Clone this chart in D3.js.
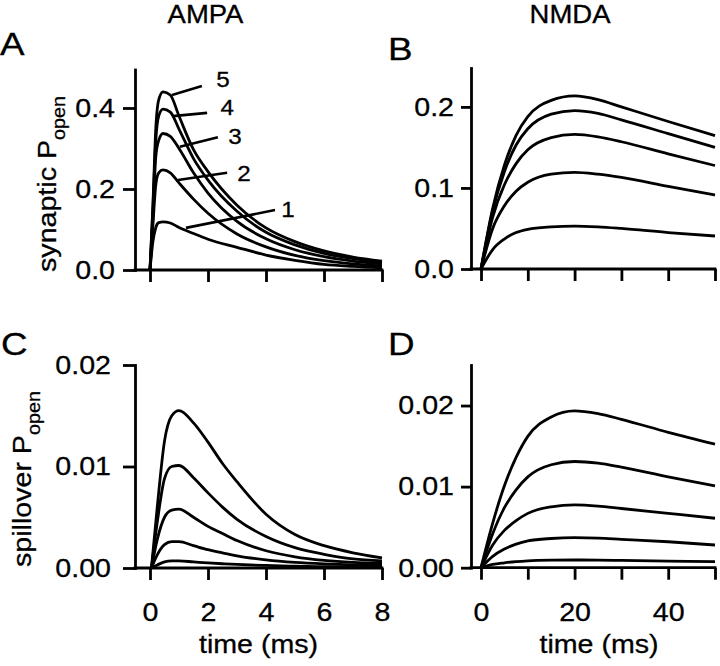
<!DOCTYPE html>
<html>
<head>
<meta charset="utf-8">
<script src="https://cdn.jsdelivr.net/npm/d3@7"></script>
<style>
  html, body { margin: 0; padding: 0; background: #fff; }
  svg { display: block; }
</style>
</head>
<body>
<svg id="chart" width="720" height="666"></svg>
<script>
// ---------------- DATA ----------------
const panelTitles = ["AMPA", "NMDA"];
const panelLetters = ["A", "B", "C", "D"];
const curveLabels = ["1", "2", "3", "4", "5"];

// Panel A: synaptic AMPA P_open (time in ms)
const ampaSynTime = [0, 0.1, 0.2, 0.3, 0.45, 0.7, 1, 1.5, 2, 3, 4, 5, 6, 7, 8];
const ampaSynValues = [
  [0, 0.07, 0.105, 0.117, 0.119, 0.116, 0.105, 0.090, 0.076, 0.056, 0.037, 0.024, 0.014, 0.009, 0.0055],
  [0, 0.11, 0.21, 0.24, 0.247, 0.240, 0.215, 0.175, 0.140, 0.089, 0.057, 0.036, 0.023, 0.015, 0.010],
  [0, 0.13, 0.28, 0.32, 0.337, 0.330, 0.300, 0.240, 0.190, 0.120, 0.077, 0.050, 0.033, 0.022, 0.015],
  [0, 0.15, 0.32, 0.38, 0.397, 0.390, 0.348, 0.275, 0.222, 0.145, 0.093, 0.062, 0.041, 0.028, 0.019],
  [0, 0.16, 0.35, 0.42, 0.440, 0.432, 0.380, 0.297, 0.243, 0.160, 0.104, 0.070, 0.047, 0.032, 0.022]
];
// Panel B: synaptic NMDA P_open
const nmdaSynTime = [0, 2.5, 5, 7.5, 10, 15, 20, 25, 30, 40, 50];
const nmdaSynValues = [
  [0, 0.024, 0.037, 0.045, 0.049, 0.052, 0.053, 0.052, 0.050, 0.045, 0.0407],
  [0, 0.050, 0.078, 0.096, 0.107, 0.117, 0.1193, 0.117, 0.113, 0.102, 0.0913],
  [0, 0.064, 0.104, 0.130, 0.147, 0.162, 0.166, 0.163, 0.157, 0.142, 0.1276],
  [0, 0.072, 0.120, 0.153, 0.173, 0.191, 0.1955, 0.192, 0.184, 0.167, 0.150],
  [0, 0.075, 0.128, 0.165, 0.188, 0.208, 0.2135, 0.209, 0.200, 0.182, 0.1646]
];
// Panel C: spillover AMPA P_open
const ampaSpillTime = [0.05, 0.25, 0.5, 0.75, 1.0, 1.5, 2, 2.5, 3, 4, 5, 6, 7, 8];
const ampaSpillValues = [
  [0, 0.0003, 0.0006, 0.0007, 0.0007, 0.0006, 0.0005, 0.00042, 0.00035, 0.00025, 0.00018, 0.00013, 0.0001, 0.0001],
  [0, 0.0013, 0.0023, 0.0026, 0.0026, 0.0022, 0.0018, 0.0015, 0.0012, 0.0008, 0.00055, 0.0004, 0.0003, 0.00025],
  [0, 0.0028, 0.0050, 0.0057, 0.0058, 0.0050, 0.0041, 0.0034, 0.0027, 0.0017, 0.0011, 0.00075, 0.00055, 0.00045],
  [0, 0.0045, 0.0088, 0.0100, 0.0101, 0.0089, 0.0074, 0.0060, 0.0048, 0.0031, 0.0020, 0.00135, 0.0009, 0.0007],
  [0, 0.0060, 0.0125, 0.0150, 0.0155, 0.0143, 0.0124, 0.0103, 0.0085, 0.0053, 0.0033, 0.0022, 0.0015, 0.0010]
];
// Panel D: spillover NMDA P_open
const nmdaSpillTime = [0, 2.5, 5, 7.5, 10, 15, 20, 25, 30, 40, 50];
const nmdaSpillValues = [
  [0, 0.0004, 0.0006, 0.00075, 0.00085, 0.00093, 0.00095, 0.00094, 0.0009, 0.00082, 0.00074],
  [0, 0.0014, 0.0023, 0.0029, 0.0033, 0.0036, 0.0037, 0.00365, 0.0035, 0.0032, 0.0028],
  [0, 0.0028, 0.0046, 0.0058, 0.0067, 0.0075, 0.00774, 0.0076, 0.0073, 0.0067, 0.0061],
  [0, 0.0042, 0.0074, 0.0096, 0.0112, 0.0127, 0.0131, 0.0129, 0.0124, 0.0112, 0.0101],
  [0, 0.0055, 0.0101, 0.0136, 0.0162, 0.0186, 0.01935, 0.0190, 0.0183, 0.0167, 0.01523]
];

// Tick values / labels
const ampaTimeTicks = [0, 2, 4, 6, 8];
const nmdaTimeTicks = [0, 10, 20, 30, 40, 50];
const nmdaTimeLabelled = [0, 20, 40];
const synAmpaYTicks = [0, 0.2, 0.4];
const synNmdaYTicks = [0, 0.1, 0.2];
const spillYTicks = [0, 0.01, 0.02];

// Curve-number annotations in panel A (time, P_open)
const labelLineStart = [[1.24, 0.104], [0.97, 0.222], [1.03, 0.304], [0.79, 0.380], [0.76, 0.432]];
const labelLineEnd   = [[4.31, 0.148], [2.66, 0.240], [2.34, 0.328], [1.97, 0.388], [1.79, 0.454]];
const labelTextPos   = [[4.76, 0.151], [3.24, 0.240], [2.93, 0.331], [2.66, 0.402], [2.52, 0.472]];

// ---------------- LAYOUT ----------------
const FONT = "'Liberation Sans', Arial, Helvetica, sans-serif";
const SX = 1.1;          // horizontal stretch of the original lettering
const TICK_FS = 26;
const AXIS_W = 2.8;
const LINE_W = 2.8;
const TXT_STROKE = 0.3;

const svg = d3.select("#chart");
svg.append("rect").attr("width", 720).attr("height", 666).attr("fill", "#fff");

function styleText(sel) {
  return sel.attr("font-family", FONT).attr("fill", "#000")
    .attr("stroke", "#000").attr("stroke-width", TXT_STROKE);
}
function text(g, x, y, str, size, anchor, sx) {
  return styleText(g.append("text"))
    .attr("transform", `translate(${x},${y}) scale(${sx || SX},1)`)
    .attr("font-size", size)
    .attr("text-anchor", anchor || "start")
    .text(str);
}

const panels = [
  { time: ampaSynTime, values: ampaSynValues, xDom: [0, 8], xRange: [150, 382], yAxisX: 135,
    yDom: [0, 0.495], yRange: [270, 69.5], yTicks: synAmpaYTicks, yFmt: d3.format(".1f"),
    yTick: 12, yPad: 8, xTicks: ampaTimeTicks, xFmt: () => "" },
  { time: nmdaSynTime, values: nmdaSynValues, xDom: [0, 50], xRange: [481, 715], yAxisX: 471,
    yDom: [0, 0.248], yRange: [269, 68], yTicks: synNmdaYTicks, yFmt: d3.format(".1f"),
    yTick: 10, yPad: 7, xTicks: nmdaTimeTicks, xFmt: () => "" },
  { time: ampaSpillTime, values: ampaSpillValues, xDom: [0, 8], xRange: [150, 382], yAxisX: 135,
    yDom: [0, 0.02], yRange: [568, 365], yTicks: spillYTicks, yFmt: d3.format(".2f"),
    yTick: 12, yPad: 12, xTicks: ampaTimeTicks, xFmt: d3.format("d") },
  { time: nmdaSpillTime, values: nmdaSpillValues, xDom: [0, 50], xRange: [481, 715], yAxisX: 471,
    yDom: [0, 0.025], yRange: [567.7, 365], yTicks: spillYTicks, yFmt: d3.format(".2f"),
    yTick: 10, yPad: 7, xTicks: nmdaTimeTicks, xFmt: d => (nmdaTimeLabelled.includes(d) ? d3.format("d")(d) : "") }
];

panels.forEach((p) => {
  const g = svg.append("g");
  const x = d3.scaleLinear().domain(p.xDom).range(p.xRange);
  const y = d3.scaleLinear().domain(p.yDom).range(p.yRange);
  p.x = x; p.y = y;

  const ya = g.append("g").attr("transform", `translate(${p.yAxisX},0)`)
    .call(d3.axisLeft(y).tickValues(p.yTicks).tickFormat(p.yFmt)
      .tickSize(p.yTick).tickSizeOuter(0).tickPadding(p.yPad));
  const xa = g.append("g").attr("transform", `translate(0,${p.yRange[0]})`)
    .call(d3.axisBottom(x).tickValues(p.xTicks).tickFormat(p.xFmt)
      .tickSize(12).tickSizeOuter(0).tickPadding(23));
  xa.select(".domain").remove();
  g.append("line")
    .attr("x1", p.yAxisX - AXIS_W / 2).attr("x2", x(p.xDom[1]) + AXIS_W / 2)
    .attr("y1", p.yRange[0]).attr("y2", p.yRange[0])
    .attr("stroke", "#000").attr("stroke-width", AXIS_W);

  [ya, xa].forEach(a => {
    a.selectAll("path, line").attr("stroke", "#000").attr("stroke-width", AXIS_W);
    styleText(a.selectAll("text")).attr("font-size", TICK_FS);
  });
  ya.select(".domain").attr("stroke-linecap", "square");
  ya.selectAll(".tick text").each(function () {
    const t = d3.select(this);
    t.attr("x", (+t.attr("x")) / SX).attr("transform", `scale(${SX},1)`);
  });
  xa.selectAll(".tick text").attr("transform", `scale(${SX},1)`);

  const line = d3.line()
    .x((d, j) => x(p.time[j]))
    .y(d => y(d))
    .curve(d3.curveMonotoneX);
  g.selectAll("path.curve").data(p.values).enter().append("path")
    .attr("class", "curve")
    .attr("d", d => line(d))
    .attr("fill", "none")
    .attr("stroke", "#000")
    .attr("stroke-width", LINE_W)
    .attr("stroke-linejoin", "round");
});

// Panel A curve-number annotations
{
  const p = panels[0];
  const g = svg.append("g");
  curveLabels.forEach((lab, k) => {
    g.append("line")
      .attr("x1", p.x(labelLineStart[k][0])).attr("y1", p.y(labelLineStart[k][1]))
      .attr("x2", p.x(labelLineEnd[k][0])).attr("y2", p.y(labelLineEnd[k][1]))
      .attr("stroke", "#000").attr("stroke-width", 2.6);
    text(g, p.x(labelTextPos[k][0]), p.y(labelTextPos[k][1]) + 8, lab, 22, "middle");
  });
}

// Titles and panel letters
text(svg, 205.5, 23, panelTitles[0], 25, "middle");
text(svg, 570, 23, panelTitles[1], 25, "middle");
text(svg, 0, 55, panelLetters[0], 32, "start", 1.15);
text(svg, 388, 60, panelLetters[1], 32, "start", 1.15);
text(svg, 1, 355, panelLetters[2], 32, "start", 1.15);
text(svg, 388, 355, panelLetters[3], 32, "start", 1.15);

// Axis titles
function yTitle(x, y, main) {
  const t = styleText(svg.append("text"))
    .attr("transform", `translate(${x},${y}) rotate(-90) scale(${SX},1)`)
    .attr("font-size", 26).attr("text-anchor", "middle");
  t.append("tspan").text(main + " P");
  t.append("tspan").attr("font-size", 18).attr("dy", 9).text("open");
}
yTitle(55.5, 184, "synaptic");
yTitle(31, 479, "spillover");

text(svg, 258.5, 653, "time (ms)", 26, "middle");
text(svg, 599, 653, "time (ms)", 26, "middle");
</script>
</body>
</html>
